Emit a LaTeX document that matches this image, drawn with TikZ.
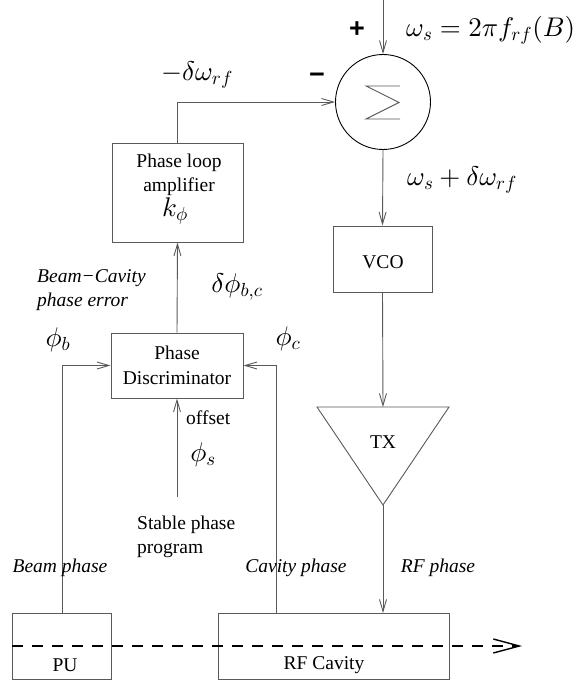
\documentclass[tikz,border=0pt]{standalone}
\DeclareFontShape{OML}{cmm}{m}{it}{<->cmmi10}{}
\DeclareFontShape{OT1}{cmr}{m}{n}{<->cmr10}{}
\DeclareFontShape{OMS}{cmsy}{m}{n}{<->cmsy10}{}
\DeclareFontShape{OMX}{cmex}{m}{n}{<->cmex10}{}
\usepackage[no-math]{fontspec}
\setmainfont{Liberation Serif}
\newfontfamily\boldsans{Liberation Sans}
\usetikzlibrary{arrows.meta}
\begin{document}
\begin{tikzpicture}[x=1pt,y=-1pt,
  every node/.style={font=\fontsize{19.5}{24.5}\selectfont, inner sep=0pt},
  ln/.style={draw=black!65, line width=0.9pt},
  arr/.style={ln, -{Straight Barb[length=12pt,width=7pt,line width=0.9pt]}},
  box/.style={draw=black!65, line width=0.9pt, rectangle, inner sep=0pt},
  mth/.style={font=\fontsize{27}{30}\selectfont},
  lab/.style={font=\fontsize{19.5}{24.5}\selectfont\itshape},
  sgn/.style={font=\boldsans\bfseries\fontsize{27}{28}\selectfont},
]
\useasboundingbox (0,0) rectangle (579,682);

% blocks
\node[circle, draw=black, line width=0.9pt, minimum size=95pt] (sum) at (383,102) {};
\draw[ln] (400,86) -- (366,86) -- (399,102.5) -- (366,119) -- (400,119);
\node[box, minimum width=131pt, minimum height=99pt] (amp) at (177.5,192.5) {};
\node[align=center] (amptxt) at (179,175) {Phase loop\\amplifier};
\node[mth] (kphi) at (175,211) {$k_\phi$};
\node[box, minimum width=132pt, minimum height=65pt, align=center] (disc) at (177,365.5) {Phase\\Discriminator};
\node[box, minimum width=99pt, minimum height=66pt] (vco) at (382.5,259) {};
\node (vcotxt) at (383,262) {VCO};
\coordinate (txl) at (317,407);
\coordinate (txr) at (449,407);
\coordinate (txt) at (383,407);
\coordinate (txb) at (383,505);
\draw[ln] (txl) -- (txr) -- (txb) -- cycle;
\node (txlab) at (383,442) {TX};
\node[box, minimum width=99pt, minimum height=66pt] (pu) at (61.5,646) {};
\node (putxt) at (65,665) {PU};
\node[box, minimum width=231pt, minimum height=66pt] (rfc) at (333.5,646) {};
\node (rftxt) at (324,665) {RF Cavity};

% connectors
\coordinate (topin) at (383,0);
\draw[arr] (topin) -- (sum.north);
\draw[arr] (amp.north) |- (sum.west);
\draw[arr] (disc.north) -- (amp.south);
\coordinate (offin) at (177,497);
\draw[arr] (offin) -- (disc.south);
\coordinate (putop) at (62,613);
\draw[arr] (putop) |- (disc.west);
\coordinate (cavtop) at (276,613);
\draw[arr] (cavtop) |- (disc.east);
\draw[arr] (sum.south) -- (vco.north);
\draw[arr] (vco.south) -- (txt);
\coordinate (rftop) at (383,613);
\draw[arr] (txb) -- (rftop);
\coordinate (bs) at (12,646);
\coordinate (be) at (522,646);
\draw[black, line width=1.4pt, dash pattern=on 11pt off 9pt, -{Straight Barb[length=26pt,width=14pt,line width=1.4pt]}] (bs) -- (be);

% labels
\node[sgn] (plus) at (357,30) {+};
\node[sgn] (minus) at (317,78) {−};
\node[mth, anchor=west] (ws) at (406,30) {$\omega_s=2\pi f_{rf}(B)$};
\node[mth] (dw) at (197,75) {$-\delta\omega_{rf}$};
\node[mth, anchor=west] (wsd) at (407,180) {$\omega_s+\delta\omega_{rf}$};
\node[mth] (dphi) at (237,287) {$\delta\phi_{b,c}$};
\node[lab, align=left, anchor=west] (bce) at (37,290) {Beam−Cavity\\phase error};
\node[mth] (phib) at (58,340) {$\phi_b$};
\node[mth] (phic) at (288,339) {$\phi_c$};
\node[anchor=west] (off) at (186,418) {offset};
\node[mth] (phis) at (203,455) {$\phi_s$};
\node[align=left, anchor=west] (spp) at (137,537) {Stable phase\\program};
\node[lab] (bp) at (60,568) {Beam phase};
\node[lab] (cp) at (296,568) {Cavity phase};
\node[lab] (rp) at (438,568) {RF phase};
\end{tikzpicture}
\end{document}
